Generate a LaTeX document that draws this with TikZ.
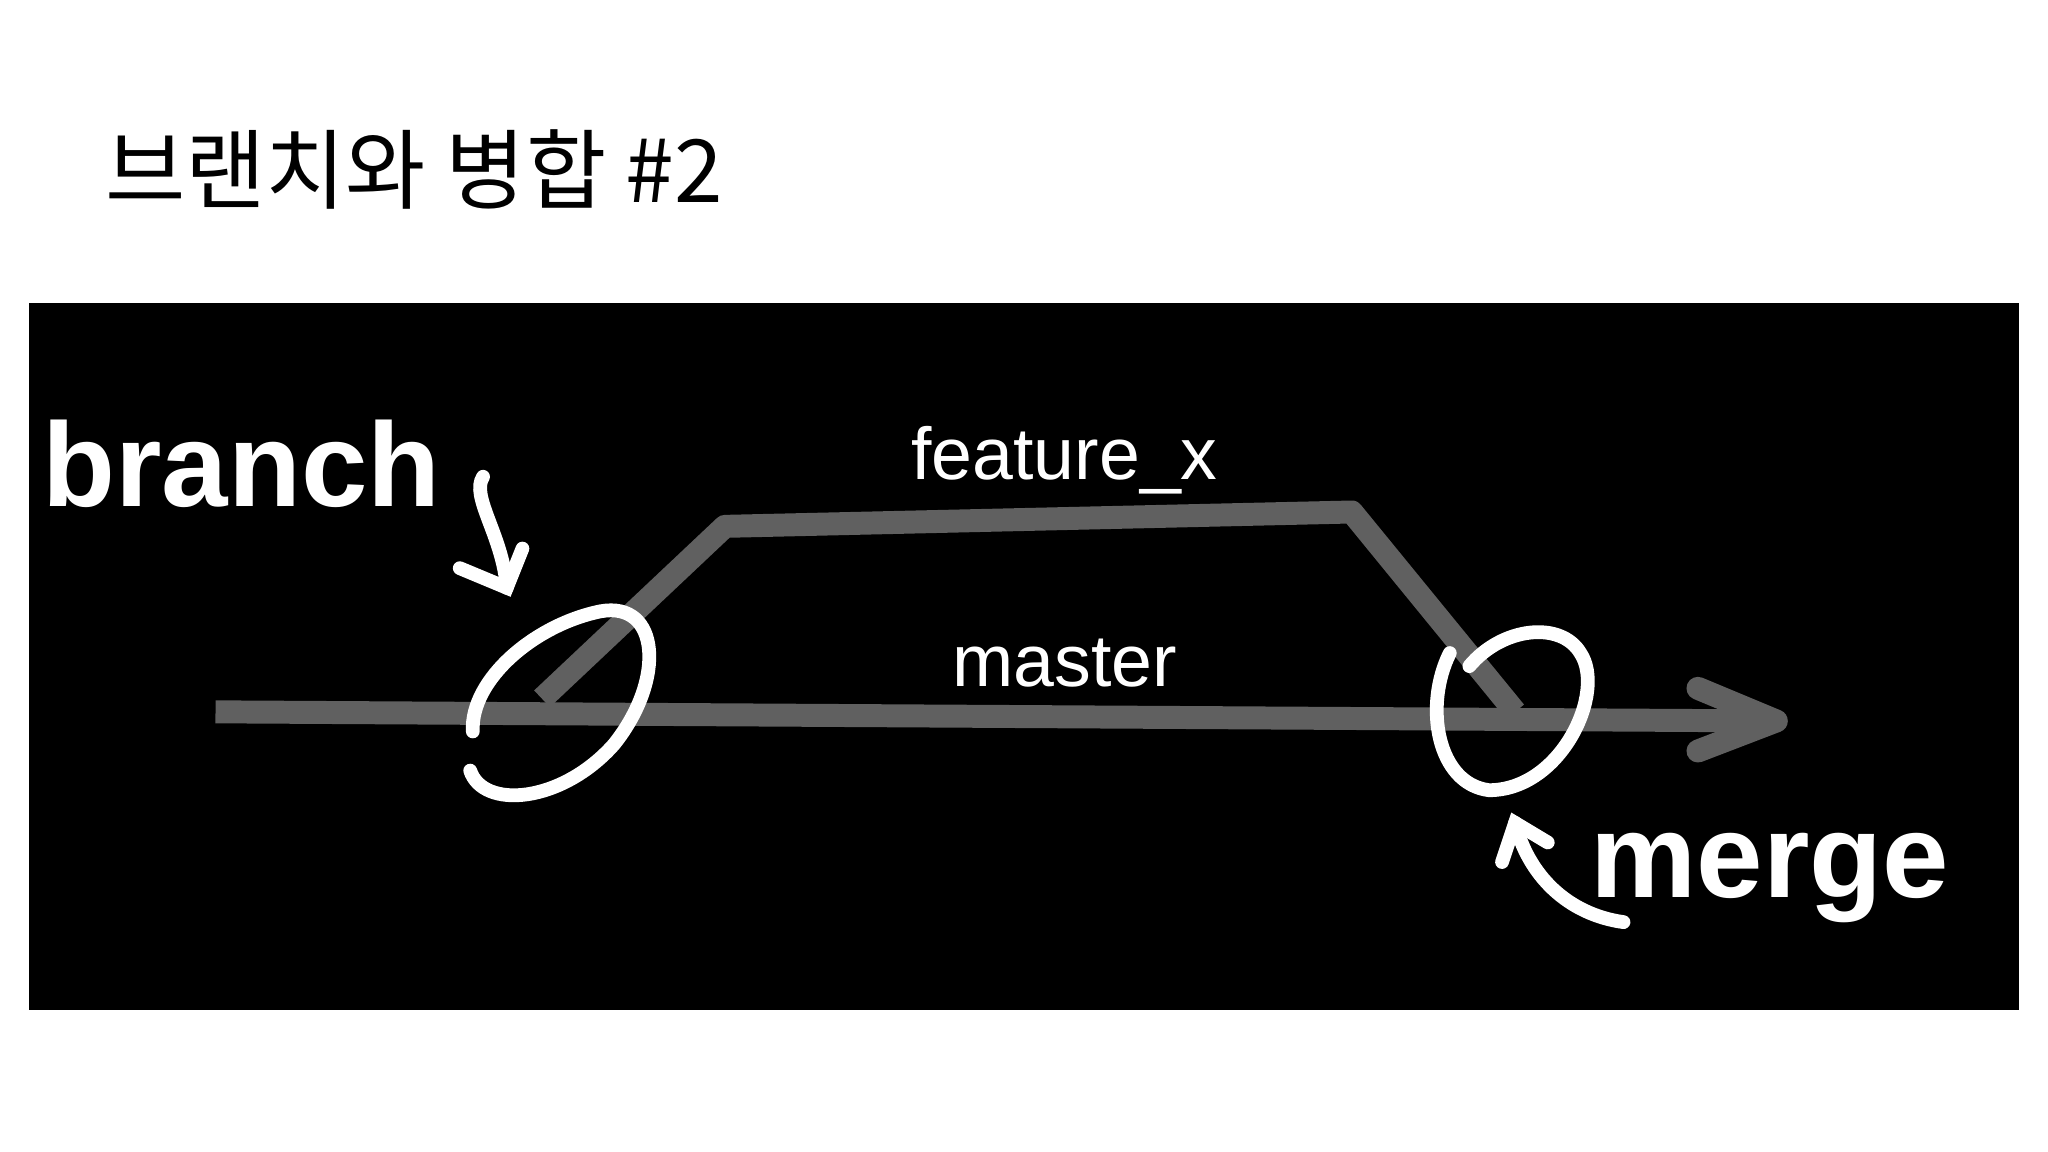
\documentclass[tikz,border=0pt]{standalone}
\usepackage{fontspec}
\setmainfont{Liberation Sans}
\newfontfamily\cjk{Noto Sans CJK KR}
\usetikzlibrary{arrows.meta}
\begin{document}
\begin{tikzpicture}[x=0.01cm,y=-0.01cm,
  gline/.style={line width=5pt,draw=gray!75!black},
  wline/.style={line width=3pt,draw=white,line cap=round},
  hand/.style={text=white,font=\bfseries}]
\useasboundingbox (0,0) rectangle (1568,882);
\fill[white] (0,0) rectangle (1568,882);
\fill[black] (22,232) rectangle (1546,773);
\node[anchor=base west,font=\cjk\fontsize{19}{22}\selectfont] (title) at (68,155) {브랜치와 병합 \#2};
% master
\coordinate (m0) at (165,545);
\coordinate (m1) at (1360,552);
\draw[gline] (m0) -- (m1);
\draw[gline,line cap=round,line join=round] (1300,527) -- (m1) -- (1300,575);
% feature
\coordinate (f0) at (415,535);
\coordinate (f1) at (555,403);
\coordinate (f2) at (1035,392);
\coordinate (f3) at (1160,545);
\draw[gline,line join=round] (f0) -- (f1) -- (f2) -- (f3);
% circles
\draw[wline] (360,590) .. controls (370,620) and (430,615) .. (470,570) .. controls (510,520) and (505,460) .. (460,468) .. controls (410,478) and (360,520) .. (362,560);
\draw[wline] (1110,500) .. controls (1090,540) and (1100,600) .. (1140,605) .. controls (1195,605) and (1230,530) .. (1210,500) .. controls (1195,475) and (1150,480) .. (1125,510);
% labels
\node[hand,font=\bfseries\fontsize{26}{30}\selectfont] (branch) at (185,355) {branch};
\node[hand,font=\fontsize{16}{20}\selectfont] (feat) at (815,352) {feature\_x};
\node[hand,font=\fontsize{16}{20}\selectfont] (master) at (815,508) {master};
\node[hand,font=\bfseries\fontsize{26}{30}\selectfont] (merge) at (1355,672) {merge};
% arrows
\coordinate (b1) at (388,450);
\draw[wline] (branch.east) ++(20,10) .. controls (360,380) and (385,410) .. (b1);
\draw[wline] (352,435) -- (b1) -- (400,420);
\coordinate (g1) at (1160,630);
\draw[wline] (1243,706) .. controls (1200,700) and (1170,670) .. (g1);
\draw[wline] (1150,660) -- (g1) -- (1185,645);
\end{tikzpicture}
\end{document}
